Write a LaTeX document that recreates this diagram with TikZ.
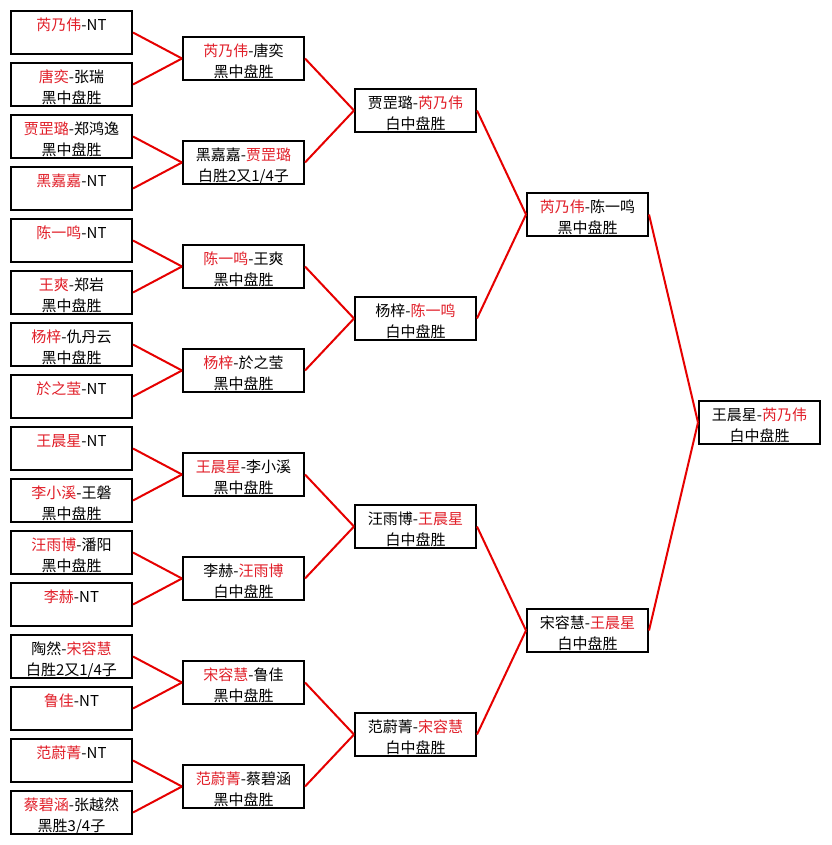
\documentclass[tikz,border=0pt]{standalone}
\usepackage{fontspec}
\newfontfamily\cjk{Noto Sans CJK SC}
\definecolor{wred}{RGB}{225,30,40}
\definecolor{lred}{RGB}{230,0,0}
\newcommand\rn[1]{\textcolor{wred}{#1}}
\newcommand\ph{\phantom{黑}}
\newcommand\tl[2]{\raisebox{0pt}[10pt][14.2pt]{\begin{tabular}[t]{@{}c@{}}#1\\[4pt]#2\end{tabular}}}
\begin{document}
\begin{tikzpicture}[x=1pt,y=-1pt,
  box/.style={draw=black, line width=2pt, minimum width=121pt, minimum height=43pt,
    inner sep=0pt, fill=white, font=\cjk\fontsize{15}{16}\selectfont},
  link/.style={draw=lred, line width=2pt}]
\fill[white] (0,0) rectangle (831,845);
\useasboundingbox (0,0) rectangle (831,845);
% column 1
\node[box] (a1)  at (71.5, 32.5) {\tl{\rn{芮乃伟}-NT}{\ph}};
\node[box] (a2)  at (71.5, 84.5) {\tl{\rn{唐奕}-张瑞}{黑中盘胜}};
\node[box] (a3)  at (71.5,136.5) {\tl{\rn{贾罡璐}-郑鸿逸}{黑中盘胜}};
\node[box] (a4)  at (71.5,188.5) {\tl{\rn{黑嘉嘉}-NT}{\ph}};
\node[box] (a5)  at (71.5,240.5) {\tl{\rn{陈一鸣}-NT}{\ph}};
\node[box] (a6)  at (71.5,292.5) {\tl{\rn{王爽}-郑岩}{黑中盘胜}};
\node[box] (a7)  at (71.5,344.5) {\tl{\rn{杨梓}-仇丹云}{黑中盘胜}};
\node[box] (a8)  at (71.5,396.5) {\tl{\rn{於之莹}-NT}{\ph}};
\node[box] (a9)  at (71.5,448.5) {\tl{\rn{王晨星}-NT}{\ph}};
\node[box] (a10) at (71.5,500.5) {\tl{\rn{李小溪}-王磐}{黑中盘胜}};
\node[box] (a11) at (71.5,552.5) {\tl{\rn{汪雨博}-潘阳}{黑中盘胜}};
\node[box] (a12) at (71.5,604.5) {\tl{\rn{李赫}-NT}{\ph}};
\node[box] (a13) at (71.5,656.5) {\tl{陶然-\rn{宋容慧}}{白胜2又1/4子}};
\node[box] (a14) at (71.5,708.5) {\tl{\rn{鲁佳}-NT}{\ph}};
\node[box] (a15) at (71.5,760.5) {\tl{\rn{范蔚菁}-NT}{\ph}};
\node[box] (a16) at (71.5,812.5) {\tl{\rn{蔡碧涵}-张越然}{黑胜3/4子}};
% column 2
\node[box] (b1) at (243.5, 58.5) {\tl{\rn{芮乃伟}-唐奕}{黑中盘胜}};
\node[box] (b2) at (243.5,162.5) {\tl{黑嘉嘉-\rn{贾罡璐}}{白胜2又1/4子}};
\node[box] (b3) at (243.5,266.5) {\tl{\rn{陈一鸣}-王爽}{黑中盘胜}};
\node[box] (b4) at (243.5,370.5) {\tl{\rn{杨梓}-於之莹}{黑中盘胜}};
\node[box] (b5) at (243.5,474.5) {\tl{\rn{王晨星}-李小溪}{黑中盘胜}};
\node[box] (b6) at (243.5,578.5) {\tl{李赫-\rn{汪雨博}}{白中盘胜}};
\node[box] (b7) at (243.5,682.5) {\tl{\rn{宋容慧}-鲁佳}{黑中盘胜}};
\node[box] (b8) at (243.5,786.5) {\tl{\rn{范蔚菁}-蔡碧涵}{黑中盘胜}};
% column 3
\node[box] (c1) at (415.5,110.5) {\tl{贾罡璐-\rn{芮乃伟}}{白中盘胜}};
\node[box] (c2) at (415.5,318.5) {\tl{杨梓-\rn{陈一鸣}}{白中盘胜}};
\node[box] (c3) at (415.5,526.5) {\tl{汪雨博-\rn{王晨星}}{白中盘胜}};
\node[box] (c4) at (415.5,734.5) {\tl{范蔚菁-\rn{宋容慧}}{白中盘胜}};
% column 4
\node[box] (d1) at (587.5,214.5) {\tl{\rn{芮乃伟}-陈一鸣}{黑中盘胜}};
\node[box] (d2) at (587.5,630.5) {\tl{宋容慧-\rn{王晨星}}{白中盘胜}};
% column 5
\node[box] (e1) at (759.5,422.5) {\tl{王晨星-\rn{芮乃伟}}{白中盘胜}};
% connectors
\foreach \c/\p in {a1/b1,a2/b1,a3/b2,a4/b2,a5/b3,a6/b3,a7/b4,a8/b4,
                   a9/b5,a10/b5,a11/b6,a12/b6,a13/b7,a14/b7,a15/b8,a16/b8,
                   b1/c1,b2/c1,b3/c2,b4/c2,b5/c3,b6/c3,b7/c4,b8/c4,
                   c1/d1,c2/d1,c3/d2,c4/d2,d1/e1,d2/e1}
  \draw[link] (\c.east) -- (\p.west);
\end{tikzpicture}
\end{document}
